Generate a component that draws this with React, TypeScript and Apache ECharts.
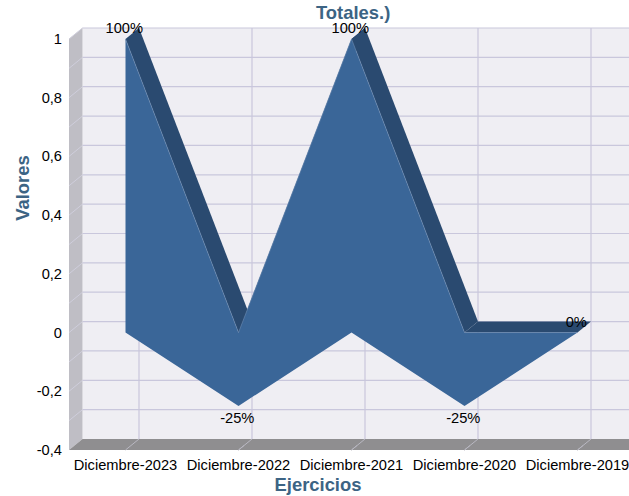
import React, { useEffect, useRef } from "react";
import * as echarts from "echarts";

const categories = ["Diciembre-2023", "Diciembre-2022", "Diciembre-2021", "Diciembre-2020", "Diciembre-2019"];
const values = [1, -0.25, 1, -0.25, 0];
const dataLabels = ["100%", "-25%", "100%", "-25%", "0%"];
const gridValues = [-0.3, -0.2, -0.1, 0, 0.1, 0.2, 0.3, 0.4, 0.5, 0.6, 0.7, 0.8, 0.9, 1];
const titleText = "Totales.)";
const xName = "Ejercicios";
const yName = "Valores";

const DX = 13.5;
const DY = -11;
const FONT = "Liberation Sans, Arial, sans-serif";
const GRID = "#C9C7DC";
const LABEL_SIZE = 14.67;
const HEAD_SIZE = 18.4;
const poly = (points: number[][], fill: string, z2 = 0) => ({
  type: "polygon",
  z2,
  shape: { points },
  style: { fill, stroke: null },
  silent: true,
});
const line = (a: number[], b: number[], stroke: string, width = 1.2) => ({
  type: "line",
  shape: { x1: a[0], y1: a[1], x2: b[0], y2: b[1] },
  style: { stroke, lineWidth: width, fill: null },
  silent: true,
});
const back = (p: number[]) => [p[0] + DX, p[1] + DY];

function renderItem(params: any, api: any) {
  if (params.dataIndex !== 0) return null;
  const cs = params.coordSys;
  const left = cs.x, right = cs.x + cs.width, top = cs.y, bottom = cs.y + cs.height;
  const children: any[] = [];

  // Back wall, left wall, floor
  children.push(poly([[left + DX, top + DY], [right + DX, top + DY], [right + DX, bottom + DY], [left + DX, bottom + DY]], "#EFEEF3"));
  children.push(poly([[left, top], [left + DX, top + DY], [left + DX, bottom + DY], [left, bottom]], "#BFBEC5"));

  // Horizontal grid lines on the back wall and their diagonals on the left wall
  gridValues.forEach((g) => {
    const y = api.coord([0, g])[1];
    children.push(line([left + DX, y + DY], [right + DX, y + DY], GRID));
    if (g !== 1) children.push(line([left, y], [left + DX, y + DY], "#CFCEDC", 1));
  });
  children.push(line([left, top], [left + DX, top + DY], "#CFCEDC", 1));

  // Vertical grid lines
  categories.forEach((_, i) => {
    const x = api.coord([i, 0])[0];
    children.push(line([x + DX, top + DY], [x + DX, bottom + DY], GRID));
  });

  children.push(poly([[left, bottom], [left + DX, bottom + DY], [right + DX, bottom + DY], [right, bottom]], "#8F8E90"));

  // Floor diagonals at categories and short ones between them
  categories.forEach((_, i) => {
    const p = api.coord([i, -0.4]);
    children.push(line([p[0], p[1]], back(p), "#B9B8C2", 1));
    if (i < categories.length - 1) {
      const mid = api.coord([i + 0.5, -0.4]);
      children.push(line([mid[0], mid[1]], [mid[0] + DX * 0.4, mid[1] + DY * 0.4], "#B9B8C2", 1));
    }
  });

  // Area: upper edge follows positive values, lower edge the negative values
  const upper = values.map((v, i) => api.coord([i, Math.max(v, 0)]));
  const lower = values.map((v, i) => api.coord([i, Math.min(v, 0)]));

  // Dark top band
  for (let i = 0; i < upper.length - 1; i++) {
    children.push(poly([upper[i], back(upper[i]), back(upper[i + 1]), upper[i + 1]], "#2A4A70"));
  }
  // Front face
  children.push(poly([...upper, ...lower.slice().reverse()], "#3A6698"));
  children.push({
    type: "polyline",
    shape: { points: upper },
    style: { stroke: "#6F8DB4", lineWidth: 0.6, fill: null },
    silent: true,
  });

  // Value labels
  values.forEach((v, i) => {
    const p = api.coord([i, v]);
    children.push({
      type: "text",
      silent: true,
      style: {
        text: dataLabels[i],
        x: p[0] - 1.2,
        y: v < 0 ? p[1] + 12.5 : p[1] - 11,
        align: "center",
        verticalAlign: "middle",
        fill: "#000000",
        font: `${LABEL_SIZE}px ${FONT}`,
      },
    });
  });

  return { type: "group", children };
}

export default function App() {
  const ref = useRef<HTMLDivElement>(null);
  useEffect(() => {
    const chart = echarts.init(ref.current!, undefined, { renderer: "svg" });
    chart.setOption({
      animation: false,
      backgroundColor: "#FFFFFF",
      title: {
        text: titleText,
        left: 316,
        top: 3,
        padding: 0,
        textStyle: { fontFamily: FONT, fontSize: HEAD_SIZE, fontWeight: "bold", color: "#3C6484" },
      },
      grid: { left: 69, top: 39, width: 565, height: 411, containLabel: false },
      xAxis: {
        type: "category",
        data: categories,
        axisLine: { show: false },
        axisTick: { show: false },
        splitLine: { show: false },
        axisLabel: { interval: 0, hideOverlap: false, margin: 7, color: "#000000", fontFamily: FONT, fontSize: LABEL_SIZE },
      },
      yAxis: {
        type: "value",
        min: -0.4,
        max: 1,
        interval: 0.2,
        axisLine: { show: false },
        axisTick: { show: false },
        splitLine: { show: false },
        axisLabel: {
          margin: 7,
          color: "#000000",
          fontFamily: FONT,
          fontSize: LABEL_SIZE,
          formatter: (v: number) => String(Math.round(v * 10) / 10).replace(".", ","),
        },
      },
      graphic: [
        {
          type: "text",
          x: 318,
          y: 484,
          silent: true,
          style: { text: xName, align: "center", verticalAlign: "middle", fill: "#3C6484", font: `bold ${HEAD_SIZE}px ${FONT}` },
        },
        {
          type: "text",
          x: 22,
          y: 188,
          rotation: Math.PI / 2,
          silent: true,
          style: { text: yName, align: "center", verticalAlign: "middle", fill: "#3C6484", font: `bold ${HEAD_SIZE}px ${FONT}` },
        },
      ],
      series: [
        {
          type: "custom",
          renderItem,
          clip: false,
          silent: true,
          data: values.map((v, i) => [i, v]),
          encode: { x: 0, y: 1 },
        },
      ],
    });
    return () => chart.dispose();
  }, []);
  return (
    <div style={{ position: "absolute", left: 0, top: 0, width: 629, height: 496, overflow: "hidden" }}>
      <div ref={ref} style={{ width: 660, height: 496 }} />
    </div>
  );
}
